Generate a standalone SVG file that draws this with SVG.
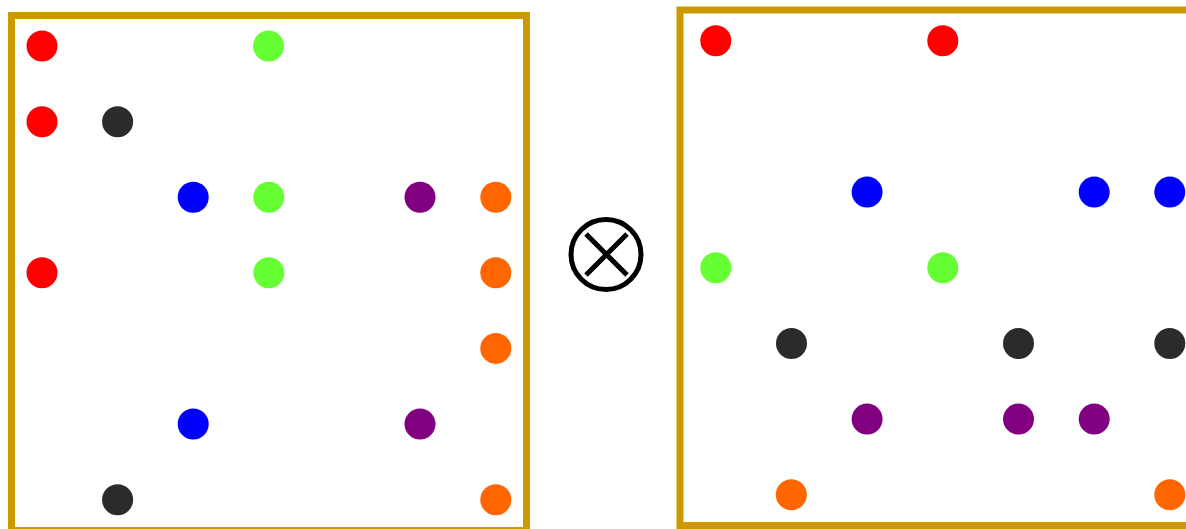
<svg xmlns="http://www.w3.org/2000/svg" width="1186" height="529" viewBox="0 0 1186 529">
<style>
.frame{fill:none;stroke:#cc9900;stroke-width:7}
.r{fill:#ff0000}.g{fill:#66ff33}.b{fill:#0000ff}.p{fill:#800080}.o{fill:#ff6600}.k{fill:#2b2b2b}
.op{fill:none;stroke:#000;stroke-width:5}
</style>
<rect width="1186" height="529" fill="#fff"/>
<g id="left">
<rect class="frame" x="11.5" y="15.5" width="515" height="515"/>
<circle class="r" cx="42" cy="46" r="15.5"/>
<circle class="g" cx="268.5" cy="46" r="15.5"/>
<circle class="r" cx="42" cy="121.7" r="15.5"/>
<circle class="k" cx="117.6" cy="121.7" r="15.5"/>
<circle class="b" cx="193.2" cy="197.2" r="15.5"/>
<circle class="g" cx="268.8" cy="197.2" r="15.5"/>
<circle class="p" cx="420" cy="197.2" r="15.5"/>
<circle class="o" cx="495.8" cy="197.2" r="15.5"/>
<circle class="r" cx="42" cy="272.8" r="15.5"/>
<circle class="g" cx="268.8" cy="272.8" r="15.5"/>
<circle class="o" cx="495.8" cy="272.8" r="15.5"/>
<circle class="o" cx="495.8" cy="348.4" r="15.5"/>
<circle class="b" cx="193.2" cy="424" r="15.5"/>
<circle class="p" cx="420" cy="424" r="15.5"/>
<circle class="k" cx="117.6" cy="499.7" r="15.5"/>
<circle class="o" cx="495.8" cy="499.7" r="15.5"/>
</g>
<g id="otimes">
<circle class="op" cx="606" cy="254.5" r="35"/>
<path class="op" d="M586 234 L627 275 M627 234 L586 275" stroke-width="4.5"/>
</g>
<g id="right">
<rect class="frame" x="680" y="10" width="515" height="515.5"/>
<circle class="r" cx="715.8" cy="40.8" r="15.5"/>
<circle class="r" cx="942.8" cy="40.8" r="15.5"/>
<circle class="b" cx="867.1" cy="192.1" r="15.5"/>
<circle class="b" cx="1094.2" cy="192.1" r="15.5"/>
<circle class="b" cx="1169.8" cy="192.1" r="15.5"/>
<circle class="g" cx="715.8" cy="267.8" r="15.5"/>
<circle class="g" cx="942.8" cy="267.8" r="15.5"/>
<circle class="k" cx="791.5" cy="343.5" r="15.5"/>
<circle class="k" cx="1018.5" cy="343.5" r="15.5"/>
<circle class="k" cx="1169.8" cy="343.5" r="15.5"/>
<circle class="p" cx="867.1" cy="419.1" r="15.5"/>
<circle class="p" cx="1018.5" cy="419.1" r="15.5"/>
<circle class="p" cx="1094.2" cy="419.1" r="15.5"/>
<circle class="o" cx="791.3" cy="494.8" r="15.5"/>
<circle class="o" cx="1169.8" cy="494.8" r="15.5"/>
</g>
</svg>
